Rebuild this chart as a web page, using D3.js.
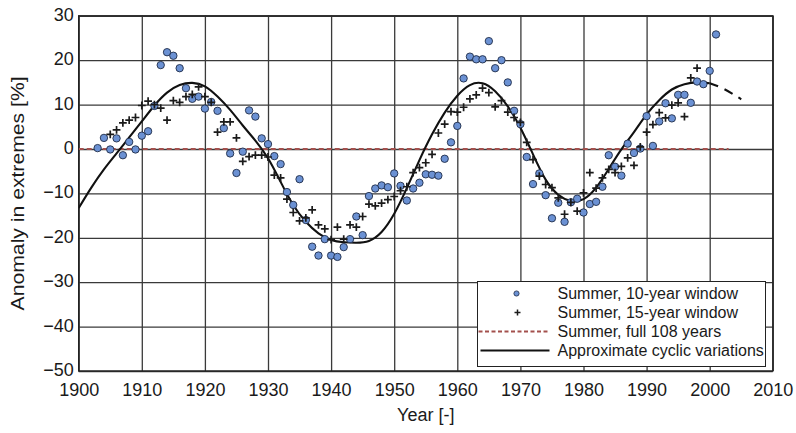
<!DOCTYPE html>
<html>
<head>
<meta charset="utf-8">
<script src="https://cdn.jsdelivr.net/npm/d3@7"></script>
<style>
  html, body { margin: 0; padding: 0; background: #fff; }
  svg { display: block; font-family: "Liberation Sans", Arial, Helvetica, sans-serif; }
</style>
</head>
<body>
<svg id="chart" width="796" height="433"></svg>
<script>
// Summer anomaly in extremes, moving-window estimates
const window10Start = 1903;
const window10 = [
  0.2, 2.5, -0.1, 2.4, -1.4, 1.6, -0.1, 3.0, 4.0, 9.7,          // 1903-1912
  18.9, 21.8, 21.0, 18.2, 13.7, 11.3, 11.8, 9.1, 10.6, 8.6,     // 1913-1922
  4.7, -1.0, -5.4, -0.6, 8.7, 7.3, 2.4, 1.1, -1.6, -3.4,        // 1923-1932
  -9.7, -12.6, -6.8, -16.0, -22.0, -24.0, -20.3, -24.0, -24.3, -22.1, // 1933-1942
  -20.3, -15.2, -19.4, -10.6, -8.9, -8.2, -8.6, -5.5, -8.3, -11.6,    // 1943-1952
  -8.9, -7.6, -5.7, -5.8, -6.0, -2.2, 1.5, 5.2, 15.9, 20.8,     // 1953-1962
  20.2, 20.2, 24.3, 18.2, 20.0, 15.0, 8.6, 5.6, -1.8, -7.9,     // 1963-1972
  -5.5, -10.4, -15.6, -12.1, -16.4, -12.0, -11.2, -14.3, -12.4, -11.9, // 1973-1982
  -8.5, -1.4, -4.0, -6.0, 1.2, -0.9, 0.1, 7.4, 0.7, 6.2,        // 1983-1992
  10.3, 6.9, 12.2, 12.2, 10.4, 15.2, 14.6, 17.6, 25.8           // 1993-2001
];

const window15Start = 1905;
const window15 = [
  3.3, 4.3, 5.9, 6.5, 7.1, 9.8, 10.8, 10.0, 9.2, 6.5,           // 1905-1914
  10.9, 10.5, 11.8, 12.3, 14.0, 11.8, 10.5, 3.8, 6.1, 6.1,      // 1915-1924
  2.5, -2.8, -1.7, -1.4, -1.4, -1.8, -5.9, -6.5, -11.3, -14.3,  // 1925-1934
  -16.2, -15.5, -13.7, -17.1, -18.0, -20.4, -17.6, -20.3, -17.1, -17.6, // 1935-1944
  -15.2, -12.4, -12.8, -12.2, -11.4, -10.7, -9.4, -8.5, -5.3, -4.2,     // 1945-1954
  -3.1, -1.2, 3.6, 5.6, 8.4, 8.3, 9.4, 11.3, 12.2, 13.7,        // 1955-1964
  12.7, 9.5, 10.9, 8.3, 7.1, 6.0, 1.5, -2.4, -6.1, -8.0,        // 1965-1974
  -8.7, -11.0, -14.7, -12.0, -14.0, -9.9, -5.3, -8.8, -6.5, -4.6, // 1975-1984
  -5.3, -3.9, -2.0, -3.7, 0.5, 3.8, 5.5, 8.2, 7.0, 9.9,         // 1985-1994
  10.4, 7.3, 16.0, 18.2                                          // 1995-1998
];

// Full-record mean (zero anomaly) line
const fullPeriod = [1900, 2003];
const fullMean = 0;

// Approximate cyclic variation, solid part and its forward extension
const cycleYears = [1900, 1902, 1904, 1906, 1908, 1910, 1912, 1914, 1916, 1918,
  1920, 1922, 1924, 1926, 1928, 1930, 1932, 1934, 1936, 1938,
  1940, 1942, 1944, 1946, 1948, 1950, 1952, 1954, 1956, 1958,
  1960, 1962, 1964, 1966, 1968, 1970, 1972, 1974, 1976, 1978,
  1980, 1982, 1984, 1986, 1988, 1990, 1992, 1994, 1996, 1998, 2000];
const cycleValues = [-13.3, -8.7, -4.6, -1.0, 2.6, 6.2, 9.8, 12.7, 14.4, 14.9,
  14.1, 11.8, 8.8, 5.3, 1.9, -2.1, -7.4, -12.6, -16.4, -19.0,
  -20.5, -21.0, -21.1, -20.7, -18.7, -14.6, -8.8, -2.5, 3.3, 8.2,
  12.0, 14.4, 14.8, 13.0, 9.6, 4.8, -1.2, -6.9, -10.3, -11.7,
  -11.3, -8.7, -4.5, -0.1, 3.8, 7.8, 11.0, 13.4, 14.6, 15.0, 14.8];
const forecastYears = [2000, 2002, 2004, 2005];
const forecastValues = [14.8, 13.7, 12.1, 11.2];

const xTicks = [1900, 1910, 1920, 1930, 1940, 1950, 1960, 1970, 1980, 1990, 2000, 2010];
const yTicks = [-50, -40, -30, -20, -10, 0, 10, 20, 30];

const legendLabels = [
  "Summer, 10-year window",
  "Summer, 15-year window",
  "Summer, full 108 years",
  "Approximate cyclic variations"
];

const svg = d3.select("#chart");
const W = 796, H = 433;
const margin = { left: 78.7, right: 23.2, top: 15.8, bottom: 62 };
const pw = W - margin.left - margin.right;
const ph = H - margin.top - margin.bottom;

const x = d3.scaleLinear().domain([1900, 2010]).range([margin.left, margin.left + pw]);
const y = d3.scaleLinear().domain([-50, 30]).range([margin.top + ph, margin.top]);

const gridColor = "#3a3a3a";
const meanColor = "#a3504d";

// grid
const gx = svg.append("g").attr("transform", `translate(0,${margin.top + ph})`)
  .call(d3.axisBottom(x).tickValues(xTicks).tickSize(-ph).tickFormat(d3.format("d")).tickPadding(10.7));
gx.select(".domain").remove();
gx.selectAll(".tick line").attr("stroke", gridColor).attr("stroke-width", 1.3);
gx.selectAll(".tick text").attr("font-size", 18).attr("fill", "#1a1a1a").attr("dy", "0.78em");

const gy = svg.append("g").attr("transform", `translate(${margin.left},0)`)
  .call(d3.axisLeft(y).tickValues(yTicks).tickSize(-pw).tickPadding(5));
gy.select(".domain").remove();
gy.selectAll(".tick line").attr("stroke", gridColor).attr("stroke-width", 1.3);
gy.selectAll(".tick text").attr("font-size", 18).attr("fill", "#1a1a1a").attr("dy", "0.25em");

// frame
svg.append("rect")
  .attr("x", margin.left).attr("y", margin.top)
  .attr("width", pw).attr("height", ph)
  .attr("fill", "none").attr("stroke", "#222").attr("stroke-width", 1.4);

svg.append("defs").append("clipPath").attr("id", "plot-clip")
  .append("rect").attr("x", margin.left).attr("y", margin.top).attr("width", pw).attr("height", ph);

const plot = svg.append("g").attr("clip-path", "url(#plot-clip)");

// full-record mean
plot.append("line")
  .attr("x1", x(fullPeriod[0])).attr("x2", x(fullPeriod[1]))
  .attr("y1", y(fullMean)).attr("y2", y(fullMean))
  .attr("stroke", meanColor).attr("stroke-width", 2)
  .attr("stroke-dasharray", "5,3");

// cyclic curve
const line = d3.line().x(d => x(d[0])).y(d => y(d[1])).curve(d3.curveNatural);
plot.append("path")
  .datum(cycleYears.map((yr, i) => [yr, cycleValues[i]]))
  .attr("d", line).attr("fill", "none").attr("stroke", "#111").attr("stroke-width", 2.1);
plot.append("path")
  .datum(forecastYears.map((yr, i) => [yr, forecastValues[i]]))
  .attr("d", line).attr("fill", "none").attr("stroke", "#111").attr("stroke-width", 2.1)
  .attr("stroke-dasharray", "9,7");

// 10-year window points
plot.append("g").selectAll("circle")
  .data(window10.map((v, i) => [window10Start + i, v]))
  .join("circle")
  .attr("cx", d => x(d[0])).attr("cy", d => y(d[1])).attr("r", 3.7)
  .attr("fill", "#6b91d3").attr("stroke", "#1f2c48").attr("stroke-width", 0.9);

// 15-year window points
const cross = (g, s, w) => g.append("path")
  .attr("d", `M${-s},0H${s}M0,${-s}V${s}`)
  .attr("stroke", "#1b1b1b").attr("stroke-width", w).attr("fill", "none");
plot.append("g").selectAll("g")
  .data(window15.map((v, i) => [window15Start + i, v]))
  .join("g")
  .attr("transform", d => `translate(${x(d[0])},${y(d[1])})`)
  .each(function () { cross(d3.select(this), 3.9, 1.7); });

// legend
const lg = svg.append("g");
const lx = 477.5, ly = 281.5, lw = 288, lh = 85;
lg.append("rect").attr("x", lx).attr("y", ly).attr("width", lw).attr("height", lh)
  .attr("fill", "#fff").attr("stroke", "#222").attr("stroke-width", 1);
const rowY = i => ly + 12 + i * 19;
const textX = lx + 80;
legendLabels.forEach((t, i) => {
  lg.append("text").attr("x", textX).attr("y", rowY(i)).attr("dy", "0.36em")
    .attr("font-size", 16).attr("fill", "#1a1a1a").text(t);
});
lg.append("circle").attr("cx", lx + 39).attr("cy", rowY(0)).attr("r", 2.6)
  .attr("fill", "#6b91d3").attr("stroke", "#1f2c48").attr("stroke-width", 0.8);
cross(lg.append("g").attr("transform", `translate(${lx + 40},${rowY(1)})`), 3, 1.5);
lg.append("line").attr("x1", lx + 1).attr("x2", lx + 72).attr("y1", rowY(2)).attr("y2", rowY(2))
  .attr("stroke", meanColor).attr("stroke-width", 1.8).attr("stroke-dasharray", "4,2.5");
lg.append("line").attr("x1", lx + 3).attr("x2", lx + 72).attr("y1", rowY(3)).attr("y2", rowY(3))
  .attr("stroke", "#111").attr("stroke-width", 2);

// axis titles
svg.append("text")
  .attr("x", margin.left + pw / 2).attr("y", 421)
  .attr("text-anchor", "middle").attr("font-size", 18).attr("fill", "#1a1a1a")
  .text("Year [-]");
svg.append("text")
  .attr("transform", `translate(23.5,${margin.top + ph / 2}) rotate(-90)`)
  .attr("text-anchor", "middle").attr("font-size", 18.5).attr("fill", "#1a1a1a")
  .attr("textLength", 234).attr("lengthAdjust", "spacingAndGlyphs")
  .text("Anomaly in extremes [%]");
</script>
</body>
</html>
